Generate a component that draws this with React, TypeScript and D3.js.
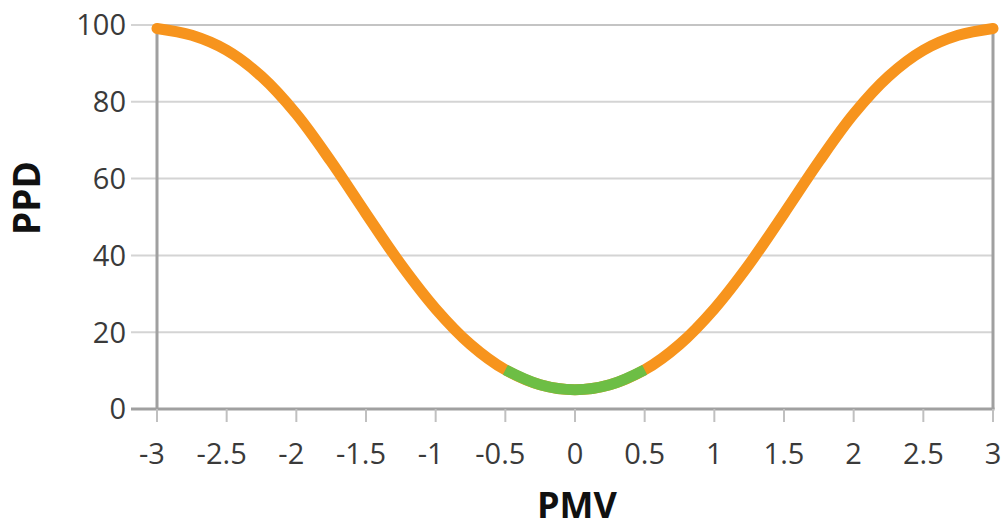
import React from "react";
import * as d3 from "d3";

const pmv = [-3, -2.75, -2.5, -2.25, -2, -1.75, -1.5, -1.25, -1, -0.75, -0.5, -0.25, 0, 0.25, 0.5, 0.75, 1, 1.25, 1.5, 1.75, 2, 2.25, 2.5, 2.75, 3];
const ppd = [99.1, 97.3, 93.4, 86.6, 76.8, 64.4, 50.9, 37.7, 26.1, 16.8, 10.2, 6.3, 5, 6.3, 10.2, 16.8, 26.1, 37.7, 50.9, 64.4, 76.8, 86.6, 93.4, 97.3, 99.1];
const xTicks = [-3, -2.5, -2, -1.5, -1, -0.5, 0, 0.5, 1, 1.5, 2, 2.5, 3];
const yTicks = [0, 20, 40, 60, 80, 100];
const comfortRange = [-0.5, 0.5];

const W = 1005;
const H = 531;
const left = 157, right = 993, top = 25, bottom = 409;

export default function App() {
  const x = d3.scaleLinear().domain([-3, 3]).range([left, right]);
  const y = d3.scaleLinear().domain([0, 100]).range([bottom, top]);
  const pts = pmv.map((v, i) => [v, ppd[i]] as [number, number]);
  const line = d3
    .line<[number, number]>()
    .x((d) => x(d[0]))
    .y((d) => y(d[1]))
    .curve(d3.curveCatmullRom.alpha(0.5));
  const green = pts.filter((d) => d[0] >= comfortRange[0] && d[0] <= comfortRange[1]);
  const font = "'Open Sans', 'Noto Sans', sans-serif";
  const labelColor = "#3a3a3a";
  return (
    <svg width={W} height={H} style={{ position: "absolute", left: 0, top: 0 }}>
      <rect width={W} height={H} fill="#fff" />
      {yTicks.map((t) => (
        <g key={t}>
          <line x1={left - 26} x2={right} y1={y(t)} y2={y(t)} stroke="#d4d4d4" strokeWidth={2} />
          <text x={126} y={y(t)} dy="0.36em" textAnchor="end" fontFamily={font} fontSize={29} fill={labelColor}>
            {t}
          </text>
        </g>
      ))}
      <line x1={left} x2={left} y1={top} y2={bottom} stroke="#a0a0a0" strokeWidth={3} />
      <line x1={right} x2={right} y1={top} y2={bottom} stroke="#a0a0a0" strokeWidth={3} />
      <line x1={left - 26} x2={right + 1.5} y1={bottom} y2={bottom} stroke="#a0a0a0" strokeWidth={3} />
      <line x1={left} x2={right} y1={top} y2={top} stroke="#c4c4c4" strokeWidth={2} />
      {xTicks.map((t) => (
        <g key={t}>
          <line x1={x(t)} x2={x(t)} y1={bottom} y2={bottom + 13} stroke="#c0c0c0" strokeWidth={2} />
          <text x={x(t) - (t < 0 ? 5 : 0)} y={464} textAnchor="middle" fontFamily={font} fontSize={29} fill={labelColor}>
            {t}
          </text>
        </g>
      ))}
      <path d={line(pts) || ""} fill="none" stroke="#F7941D" strokeWidth={11} strokeLinecap="round" />
      <path d={line(green) || ""} fill="none" stroke="#6DBE45" strokeWidth={11} />
      <text
        transform={`translate(40,198) rotate(-90)`}
        textAnchor="middle"
        fontFamily={font}
        fontWeight="bold"
        fontSize={37}
        fill="#111"
      >
        PPD
      </text>
      <text x={577} y={518} textAnchor="middle" fontFamily={font} fontWeight="bold" fontSize={36} fill="#111">
        PMV
      </text>
    </svg>
  );
}
